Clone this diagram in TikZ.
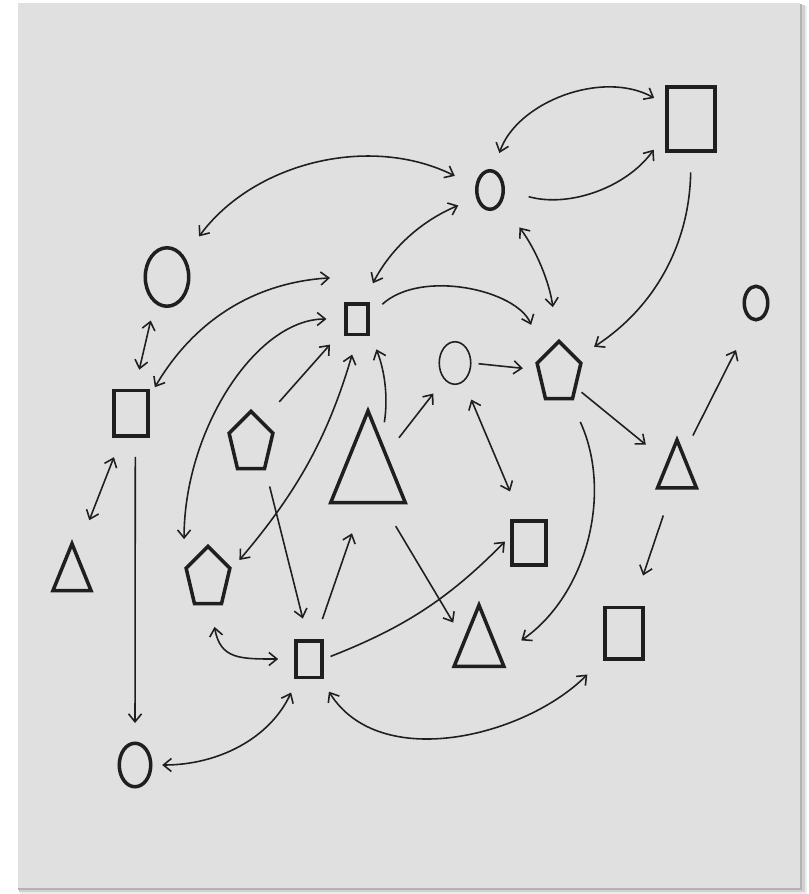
\documentclass[tikz,border=0pt]{standalone}
\usepackage{tikz}
\usetikzlibrary{shapes.geometric, arrows.meta}

\begin{document}
\begin{tikzpicture}[
    x=0.02cm, y=-0.02cm,
    shp/.style={draw=black!88, line width=2pt, inner sep=0pt},
    box/.style 2 args={shp, rectangle, minimum width=#1cm, minimum height=#2cm},
    ell/.style 2 args={shp, ellipse, minimum width=#1cm, minimum height=#2cm},
    pg/.style={shp, regular polygon, regular polygon sides=5, minimum size=#1cm, transform shape},
    tri/.style={shp, regular polygon, regular polygon sides=3, minimum size=#1cm, transform shape},
    a/.style={-{Straight Barb[length=1.6mm, width=2.6mm]}, line width=0.9pt, black!88},
    aa/.style={{Straight Barb[length=1.6mm, width=2.6mm]}-{Straight Barb[length=1.6mm, width=2.6mm]}, line width=0.9pt, black!88},
    sh/.style 2 args={shorten <=#1pt, shorten >=#2pt}
]
\useasboundingbox (0,0) rectangle (809,894);
% sheet with shadow
\fill[black!8] (20,6) rectangle (807,894);
\fill[black!18] (19,5) rectangle (805,892);
\fill[black!30] (18,4) rectangle (802,890);
\fill[black!12] (18,3) rectangle (800,888);

\node[box={0.97}{1.29}] (sqTR) at (691,119) {};
\node[ell={0.53}{0.77}] (cTop) at (490,190) {};
\node[ell={0.87}{1.17}] (cL) at (167,277) {};
\node[ell={0.47}{0.67}] (cR) at (756,303) {};
\node[box={0.45}{0.61}] (sqC) at (357,319) {};
\node[ell={0.63}{0.85}, line width=0.9pt] (cM) at (455,363) {};
\node[box={0.67}{0.91}] (sqL) at (131,413) {};
\node[box={0.67}{0.89}] (sqRM) at (529,543) {};
\node[box={0.53}{0.73}] (sqLow) at (309,659) {};
\node[box={0.75}{1.03}] (sqLR) at (624,633) {};
\node[ell={0.63}{0.87}] (cB) at (135,765) {};
% pentagons and triangles, stretched upwards
\begin{scope}[shift={(559,373)}, yscale=1.38] \node[pg=0.92] (pR) {}; \end{scope}
\begin{scope}[shift={(251,443)}, yscale=1.38] \node[pg=0.92] (pA) {}; \end{scope}
\begin{scope}[shift={(208,578)}, yscale=1.38] \node[pg=0.92] (pB) {}; \end{scope}
\begin{scope}[shift={(368,472)}, yscale=1.42] \node[tri=1.72] (tBig) {}; \end{scope}
\begin{scope}[shift={(677,472)}, yscale=1.42] \node[tri=0.9] (tR) {}; \end{scope}
\begin{scope}[shift={(72,575)}, yscale=1.42] \node[tri=0.88] (tL) {}; \end{scope}
\begin{scope}[shift={(479,646)}, yscale=1.42] \node[tri=1.15] (tLow) {}; \end{scope}

\draw[aa, sh={10}{7}] (cTop.80) to[bend left=50] (sqTR.150);
\draw[a, sh={14}{11}] (cTop.0) to[bend right=35] (sqTR.210);
\draw[aa, sh={14}{13}] (cL.50) to[bend left=40] (cTop.165);
\draw[aa, sh={12}{11}] (sqC.70) to[bend left=20] (cTop.210);
\draw[aa, sh={17}{19}] (cTop.-50) to[bend left=15] (pR.95);
\draw[a, sh={11}{11}] (sqTR.270) to[bend left=28] (pR.31);
\draw[aa, sh={10}{11}] (cL.245) -- (sqL.81);
\draw[aa, sh={6}{8}] (sqL.42) to[bend left=28] ([yshift=0.5cm]sqC.north west);
\draw[aa, sh={10}{16}] (sqC.west) to[out=180, in=90, out distance=1.76cm, in distance=2.74cm] (pB.corner 2);
\draw[a, sh={14}{12}] (pA.54) -- (sqC.217);
\draw[aa, sh={7}{11}] (pB.15) to[bend right=12] (sqC.272);
\draw[a, sh={10}{10}] (tBig.59) to[bend right=15] (sqC.-47);
\draw[a, sh={9.5}{18}] (sqC.15) to[bend left=55] (pR.139);
\draw[a, sh={11}{10}] (tBig.35) -- (cM.237);
\draw[a, sh={4}{8}] (cM.east) -- (pR.174);
\draw[aa, sh={11}{17}] (cM.-65) -- (sqRM.107);
\draw[a, sh={3.5}{15}] (pR.-32) -- (tR.145);
\draw[a, sh={11}{19}] (tR.62) -- (cR.254);
\draw[a, sh={15}{18}] (tR.248) -- (sqLR.72);
\draw[a, sh={13}{14}] (pR.-60) to[bend left=40] (tLow.-15);
\draw[aa, sh={12}{19}] (sqL.249) -- (tL.73);
\draw[a, sh={11}{10.5}] (sqL.-80) -- (cB.north);
\draw[a, sh={9}{12}] (pA.-54) -- (sqLow.93);
\draw[a, sh={12}{17}] (sqLow.72) -- (tBig.255);
\draw[a, sh={14}{11}] (tBig.-57) -- (tLow.163);
\draw[a, sh={4}{4.5}] (sqLow.east) to[bend right=12] (sqRM.159);
\draw[aa, sh={12}{9}] (pB.-82) to[out=-80, in=180, looseness=1.4] (sqLow.west);
\draw[aa, sh={8.5}{5.5}] (sqLow.240) to[out=245, in=0] (cB.east);
\draw[aa, sh={8.5}{13}] (sqLow.-59) to[out=-58, in=225] (sqLR.231);
\end{tikzpicture}
\end{document}
